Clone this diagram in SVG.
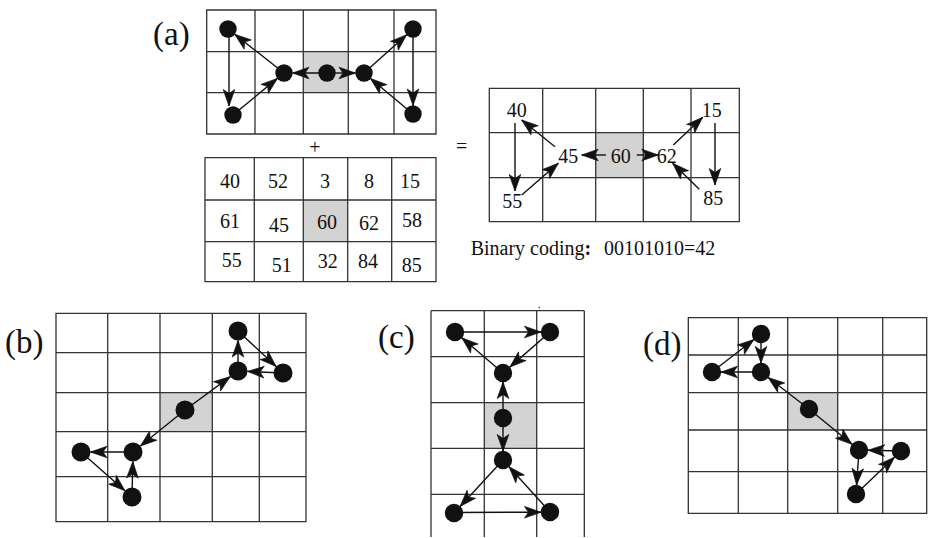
<svg xmlns="http://www.w3.org/2000/svg" width="929" height="538" viewBox="0 0 929 538">
  <style>
    .grid { fill: none; stroke: #333; stroke-width: 1.3; }
    .cell { fill: #d3d3d3; stroke: none; }
    .node { fill: #111; }
    .edge { stroke: #111; stroke-width: 1.4; fill: none; marker-end: url(#head); }
    .lbl { font-family: "Liberation Serif", "Times New Roman", serif; font-size: 33px; fill: #111; }
    .num { font-family: "Liberation Serif", "Times New Roman", serif; font-size: 20px; fill: #111; text-anchor: middle; }
    .txt { font-family: "Liberation Serif", "Times New Roman", serif; font-size: 20px; fill: #111; }
  </style>
  <defs>
    <!-- barbed arrowhead, tip at the origin -->
    <marker id="head" viewBox="-18 -7 19 14" refX="0" refY="0" markerWidth="19" markerHeight="14" markerUnits="userSpaceOnUse" orient="auto">
      <path d="M0,0 L-16.5,-5.8 L-12.5,0 L-16.5,5.8 Z" fill="#111" stroke="#111" stroke-width="0.7" stroke-linejoin="round"/>
    </marker>
  </defs>

  <!-- panel (a): neighbourhood pattern -->
  <g id="panel-a">
    <text class="lbl" x="153" y="45">(a)</text>
    <rect class="cell" x="303.3" y="51.7" width="45" height="41"/>
    <path class="grid" d="M206.7,10 H436 V134 H206.7 Z M206.7,51.7 H436 M206.7,92.7 H436 M255,10 V134 M303.3,10 V134 M348.3,10 V134 M394,10 V134"/>
  </g>
  <g id="edges-a">
    <line class="edge" x1="229" y1="29" x2="229" y2="106"/>
    <line class="edge" x1="284" y1="73" x2="234.7" y2="34.3"/>
    <line class="edge" x1="233" y1="115" x2="277.4" y2="78.4"/>
    <line class="edge" x1="327" y1="73" x2="292.5" y2="73"/>
    <line class="edge" x1="327" y1="73" x2="355.5" y2="73"/>
    <line class="edge" x1="364" y1="73" x2="406.7" y2="34.7"/>
    <line class="edge" x1="413" y1="114" x2="370.5" y2="78.5"/>
    <line class="edge" x1="413" y1="29" x2="413" y2="105.5"/>
  </g>
  <g id="nodes-a">
    <circle id="a-tl" class="node" cx="228" cy="29" r="8.7"/>
    <circle id="a-bl" class="node" cx="233" cy="115" r="8.7"/>
    <circle id="a-45" class="node" cx="284" cy="73" r="8.7"/>
    <circle id="a-c" class="node" cx="327" cy="73" r="8.7"/>
    <circle id="a-62" class="node" cx="364" cy="73" r="8.7"/>
    <circle id="a-tr" class="node" cx="413" cy="29" r="8.7"/>
    <circle id="a-br" class="node" cx="413" cy="114" r="8.7"/>
  </g>

  <!-- plus sign and pixel values -->
  <text class="num" x="315" y="154">+</text>
  <g id="values">
    <rect class="cell" x="303.3" y="200" width="44.4" height="41.7"/>
    <path class="grid" d="M205,157.7 H436 V281.7 H205 Z M205,200 H436 M205,241.7 H436 M254.3,157.7 V281.7 M303.3,157.7 V281.7 M347.7,157.7 V281.7 M391.7,157.7 V281.7"/>
    <text class="num" x="230" y="188.3">40</text>
    <text class="num" x="278" y="188.3">52</text>
    <text class="num" x="325" y="188.3">3</text>
    <text class="num" x="369" y="188.3">8</text>
    <text class="num" x="410" y="188.3">15</text>
    <text class="num" x="230" y="228">61</text>
    <text class="num" x="279" y="232">45</text>
    <text class="num" x="327" y="228.5">60</text>
    <text class="num" x="369" y="229.5">62</text>
    <text class="num" x="412" y="227">58</text>
    <text class="num" x="231.7" y="266.7">55</text>
    <text class="num" x="281.7" y="271.5">51</text>
    <text class="num" x="327.7" y="267.7">32</text>
    <text class="num" x="368" y="268">84</text>
    <text class="num" x="411.7" y="272">85</text>
  </g>

  <!-- equals sign and resulting pattern -->
  <text class="num" x="461.7" y="153">=</text>
  <g id="result">
    <rect class="cell" x="595.7" y="132.7" width="47.6" height="45"/>
    <path class="grid" d="M489.3,88.3 H739.3 V221.7 H489.3 Z M489.3,132.7 H739.3 M489.3,177.7 H739.3 M542.7,88.3 V221.7 M595.7,88.3 V221.7 M643.3,88.3 V221.7 M691,88.3 V221.7"/>
    <text class="num" x="516.7" y="117.3">40</text>
    <text class="num" x="711.7" y="116.7">15</text>
    <text class="num" x="568.3" y="162.7">45</text>
    <text class="num" x="620.7" y="163.3">60</text>
    <text class="num" x="666.7" y="163">62</text>
    <text class="num" x="512.3" y="208.3">55</text>
    <text class="num" x="713.3" y="205">85</text>
  </g>
  <g id="edges-result">
    <line class="edge" x1="515" y1="123" x2="515" y2="191"/>
    <line class="edge" x1="555" y1="146.7" x2="521.7" y2="120"/>
    <line class="edge" x1="521.7" y1="195" x2="558.3" y2="163.3"/>
    <line class="edge" x1="606" y1="155" x2="581.7" y2="155"/>
    <line class="edge" x1="636.7" y1="155" x2="658.3" y2="155"/>
    <line class="edge" x1="673.3" y1="145" x2="702.7" y2="117.3"/>
    <line class="edge" x1="699.3" y1="189.3" x2="672.7" y2="163.3"/>
    <line class="edge" x1="715" y1="123" x2="715" y2="185"/>
  </g>
  <text class="txt" x="470.7" y="255">Binary coding<tspan font-weight="bold">:</tspan></text>
  <text class="txt" x="604" y="255">00101010=42</text>

  <!-- panel (b) -->
  <g id="panel-b">
    <text class="lbl" x="5" y="353">(b)</text>
    <rect class="cell" x="160" y="392.7" width="52.3" height="39"/>
    <path class="grid" d="M56,313.3 H306 V521.7 H56 Z M56,352.7 H306 M56,392.7 H306 M56,431.7 H306 M56,476.7 H306 M107.7,313.3 V521.7 M160,313.3 V521.7 M212.3,313.3 V521.7 M259.3,313.3 V521.7"/>
  </g>
  <g id="edges-b">
    <line class="edge" x1="185" y1="410" x2="230.3" y2="376.6"/>
    <line class="edge" x1="185" y1="410" x2="140.4" y2="446"/>
    <line class="edge" x1="238" y1="371" x2="238" y2="340.5"/>
    <line class="edge" x1="238" y1="331" x2="276.1" y2="366.5"/>
    <line class="edge" x1="283" y1="373" x2="247.5" y2="371.4"/>
    <line class="edge" x1="133" y1="452" x2="90.5" y2="452"/>
    <line class="edge" x1="81" y1="452" x2="124.9" y2="490.7"/>
    <line class="edge" x1="132" y1="497" x2="132.8" y2="461.5"/>
  </g>
  <g id="nodes-b">
    <circle id="b-p1" class="node" cx="238" cy="331" r="9.5"/>
    <circle id="b-p2" class="node" cx="238" cy="371" r="9.5"/>
    <circle id="b-p3" class="node" cx="283" cy="373" r="9.5"/>
    <circle id="b-c" class="node" cx="185" cy="410" r="9.5"/>
    <circle id="b-q1" class="node" cx="133" cy="452" r="9.5"/>
    <circle id="b-q2" class="node" cx="81" cy="452" r="9.5"/>
    <circle id="b-q3" class="node" cx="132" cy="497" r="9.5"/>
  </g>

  <!-- panel (c) -->
  <g id="panel-c">
    <text class="lbl" x="378" y="348">(c)</text>
    <rect class="cell" x="484.3" y="402.7" width="52.4" height="45.6"/>
    <path class="grid" d="M431,310.7 H584.3 M431,356.7 H584.3 M431,402.7 H584.3 M431,448.3 H584.3 M431,494.3 H584.3 M431,310.7 V537 M484.3,310.7 V537 M536.7,310.7 V537 M584.3,310.7 V537"/>
    <circle cx="539.3" cy="307.5" r="0.8" fill="#333"/>
  </g>
  <g id="edges-c">
    <line class="edge" x1="455" y1="332" x2="541" y2="332"/>
    <line class="edge" x1="550" y1="332" x2="509.8" y2="367.1"/>
    <line class="edge" x1="503" y1="373" x2="461.8" y2="337.8"/>
    <line class="edge" x1="503" y1="418" x2="503" y2="382"/>
    <line class="edge" x1="503" y1="418" x2="503" y2="451"/>
    <line class="edge" x1="503" y1="460" x2="460.1" y2="506.4"/>
    <line class="edge" x1="550" y1="512" x2="509" y2="466.7"/>
    <line class="edge" x1="454" y1="512.5" x2="541" y2="512.2"/>
  </g>
  <g id="nodes-c">
    <circle id="c-tl" class="node" cx="455" cy="332" r="9.2"/>
    <circle id="c-tr" class="node" cx="550" cy="332" r="9.2"/>
    <circle id="c-m1" class="node" cx="503" cy="373" r="9.2"/>
    <circle id="c-c" class="node" cx="503" cy="418" r="9.2"/>
    <circle id="c-m2" class="node" cx="503" cy="460" r="9.2"/>
    <circle id="c-bl" class="node" cx="454" cy="513" r="9.2"/>
    <circle id="c-br" class="node" cx="550" cy="512" r="9.2"/>
  </g>

  <!-- panel (d) -->
  <g id="panel-d">
    <text class="lbl" x="643" y="355">(d)</text>
    <rect class="cell" x="787.7" y="392.7" width="50" height="37.3"/>
    <path class="grid" d="M688.3,317.7 H926.7 V513.3 H688.3 Z M688.3,355 H926.7 M688.3,392.7 H926.7 M688.3,430 H926.7 M688.3,471.7 H926.7 M738.3,317.7 V513.3 M787.7,317.7 V513.3 M837.7,317.7 V513.3 M882.7,317.7 V513.3"/>
  </g>
  <g id="edges-d">
    <line class="edge" x1="809" y1="409" x2="768.1" y2="377.5"/>
    <line class="edge" x1="809" y1="409" x2="852" y2="444.3"/>
    <line class="edge" x1="761" y1="334" x2="761" y2="363"/>
    <line class="edge" x1="761" y1="372" x2="721" y2="372"/>
    <line class="edge" x1="712" y1="372" x2="753.9" y2="339.5"/>
    <line class="edge" x1="901" y1="451" x2="868" y2="450.2"/>
    <line class="edge" x1="859" y1="450" x2="856.6" y2="485"/>
    <line class="edge" x1="856" y1="494" x2="894.5" y2="457.2"/>
  </g>
  <g id="nodes-d">
    <circle id="d-t" class="node" cx="761" cy="334" r="9.2"/>
    <circle id="d-l" class="node" cx="712" cy="372" r="9.2"/>
    <circle id="d-m" class="node" cx="761" cy="372" r="9.2"/>
    <circle id="d-c" class="node" cx="809" cy="409" r="9.2"/>
    <circle id="d-r1" class="node" cx="859" cy="450" r="9.2"/>
    <circle id="d-r2" class="node" cx="901" cy="451" r="9.2"/>
    <circle id="d-b" class="node" cx="856" cy="494" r="9.2"/>
  </g>
</svg>
